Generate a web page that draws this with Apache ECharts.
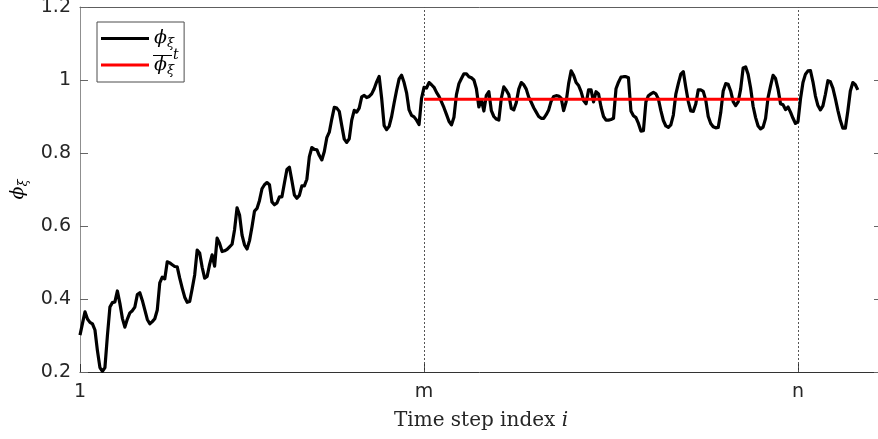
<!DOCTYPE html>
<html>
<head>
<meta charset="utf-8">
<script src="https://cdn.jsdelivr.net/npm/echarts@6/dist/echarts.min.js"></script>
<style>
  html, body { margin: 0; padding: 0; background: #fff; }
  #chart { width: 878px; height: 439px; }
</style>
</head>
<body>
<div id="chart"></div>
<script>
// phi_xi per time step (step index = position + 1)
const phiXi = [
  0.301,0.333,0.365,0.345,0.336,0.332,0.315,0.258,0.212,0.202,
  0.212,0.300,0.378,0.390,0.392,0.422,0.388,0.347,0.323,0.345,
  0.362,0.368,0.378,0.412,0.417,0.396,0.370,0.344,0.332,0.338,
  0.346,0.370,0.444,0.460,0.455,0.502,0.499,0.494,0.489,0.488,
  0.457,0.430,0.405,0.391,0.393,0.428,0.466,0.534,0.526,0.487,
  0.457,0.462,0.495,0.521,0.490,0.567,0.552,0.530,0.532,0.536,
  0.543,0.550,0.590,0.650,0.630,0.575,0.548,0.537,0.560,0.598,
  0.641,0.648,0.670,0.702,0.713,0.719,0.713,0.666,0.658,0.663,
  0.680,0.680,0.718,0.755,0.761,0.724,0.685,0.676,0.684,0.710,
  0.710,0.728,0.790,0.815,0.810,0.809,0.793,0.781,0.804,0.842,
  0.857,0.893,0.925,0.923,0.914,0.875,0.838,0.829,0.839,0.890,
  0.917,0.912,0.923,0.954,0.958,0.952,0.955,0.962,0.976,0.995,
  1.010,0.950,0.875,0.864,0.873,0.900,0.937,0.972,1.003,1.013,
  0.993,0.965,0.918,0.903,0.899,0.890,0.878,0.950,0.980,0.978,
  0.993,0.987,0.980,0.966,0.955,0.940,0.924,0.906,0.887,0.877,
  0.898,0.960,0.990,1.004,1.017,1.017,1.009,1.006,1.000,0.976,
  0.926,0.946,0.915,0.958,0.968,0.916,0.900,0.893,0.890,0.950,
  0.981,0.972,0.960,0.922,0.918,0.938,0.975,0.993,0.987,0.975,
  0.953,0.939,0.924,0.912,0.900,0.895,0.895,0.905,0.918,0.942,
  0.955,0.957,0.956,0.950,0.916,0.940,0.990,1.025,1.013,0.993,
  0.985,0.968,0.944,0.935,0.973,0.973,0.940,0.968,0.962,0.926,
  0.900,0.890,0.890,0.892,0.895,0.976,0.994,1.008,1.009,1.009,
  1.006,0.915,0.902,0.897,0.881,0.860,0.861,0.940,0.957,0.962,
  0.966,0.962,0.948,0.916,0.889,0.874,0.870,0.877,0.904,0.961,
  0.990,1.016,1.023,0.980,0.941,0.915,0.914,0.934,0.973,0.973,
  0.969,0.945,0.900,0.881,0.872,0.869,0.870,0.910,0.970,0.990,
  0.988,0.970,0.941,0.930,0.940,0.975,1.033,1.036,1.016,0.978,
  0.928,0.897,0.874,0.866,0.871,0.895,0.952,0.984,1.013,1.004,
  0.975,0.935,0.932,0.919,0.926,0.912,0.895,0.881,0.886,0.948,
  0.993,1.016,1.025,1.026,0.995,0.956,0.930,0.918,0.929,0.961,
  0.998,0.995,0.978,0.949,0.917,0.889,0.868,0.868,0.915,0.970,
  0.993,0.987,0.973
];

// averaging window [m, n] and the time-averaged value over it
const stepM = 139;
const stepN = 289;
const phiXiMeanT = [0.947, 0.947];

// axis ticks
const xTickValues = [1, stepM, stepN];
const xTickLabels = ['1', 'm', 'n'];
const yMin = 0.2, yMax = 1.2, yStep = 0.2;
const xMin = 1, xMax = 322.7;

const lineData = phiXi.map((v, k) => [k + 1, v]);
const meanData = [[stepM, phiXiMeanT[0]], [stepN, phiXiMeanT[1]]];

const chart = echarts.init(document.getElementById('chart'), null, { renderer: 'canvas' });

const tickFont = { fontFamily: 'DejaVu Sans', fontSize: 19, color: '#262626' };
const mathRich = {
  v: { fontFamily: 'DejaVu Serif', fontStyle: 'italic', fontSize: 19, lineHeight: 24, color: '#000' },
  s: { fontFamily: 'DejaVu Serif', fontStyle: 'italic', fontSize: 13, lineHeight: 13, verticalAlign: 'bottom', color: '#000' }
};

chart.setOption({
  animation: false,
  backgroundColor: '#fff',
  grid: { left: 80, top: 7, width: 802, height: 365, containLabel: false, outerBoundsMode: 'none' },
  legend: {
    orient: 'vertical',
    left: 97,
    top: 22,
    padding: [7, 10, 5, 4],
    itemGap: 5,
    icon: 'rect',
    itemWidth: 48,
    itemHeight: 3,
    borderColor: '#4d4d4d',
    borderWidth: 1,
    backgroundColor: '#fff',
    data: [{ name: 'phi' }, { name: 'phiMean' }],
    formatter: function () {
      return '{v|ϕ}{s|ξ}';
    },
    textStyle: { rich: mathRich, padding: [0, 0, 0, 0] }
  },
  xAxis: [{
    type: 'value',
    min: xMin,
    max: xMax,
    position: 'bottom',
    name: '{r|Time step index }{i|i}',
    nameLocation: 'middle',
    nameGap: 39,
    nameTextStyle: {
      rich: {
        r: { fontFamily: 'DejaVu Serif', fontSize: 20, color: '#262626' },
        i: { fontFamily: 'DejaVu Serif', fontStyle: 'italic', fontSize: 20, color: '#262626' }
      }
    },
    splitLine: { show: false },
    axisLine: { show: true, lineStyle: { color: '#333', width: 1 } },
    axisTick: { show: true, inside: true, length: 8, customValues: xTickValues, lineStyle: { color: '#333' } },
    axisLabel: {
      show: true,
      margin: 11,
      customValues: xTickValues,
      formatter: function (v) {
        const k = xTickValues.indexOf(Math.round(v));
        return k >= 0 ? xTickLabels[k] : '';
      },
      ...tickFont
    }
  }, {
    type: 'value',
    min: xMin,
    max: xMax,
    position: 'top',
    splitLine: { show: false },
    axisLine: { show: true, lineStyle: { color: '#5e5e5e', width: 1 } },
    axisTick: { show: false },
    axisLabel: { show: false }
  }],
  yAxis: [{
    type: 'value',
    min: yMin,
    max: yMax,
    interval: yStep,
    position: 'left',
    name: '{v|ϕ}{s|ξ}',
    nameLocation: 'middle',
    nameRotate: 90,
    nameGap: 43,
    nameTextStyle: { rich: mathRich },
    splitLine: { show: false },
    axisLine: { show: true, lineStyle: { color: '#8f8f8f', width: 1 } },
    axisTick: { show: true, inside: true, length: 8, lineStyle: { color: '#666' } },
    axisLabel: { margin: 9, ...tickFont }
  }, {
    type: 'value',
    min: yMin,
    max: yMax,
    interval: yStep,
    position: 'right',
    splitLine: { show: false },
    axisLine: { show: true, lineStyle: { color: '#5e5e5e', width: 1 } },
    axisTick: { show: true, inside: true, length: 8, lineStyle: { color: '#666' } },
    axisLabel: { show: false }
  }],
  series: [
    {
      name: 'phi',
      type: 'line',
      data: lineData,
      symbol: 'none',
      z: 3,
      lineStyle: { color: '#000', width: 3.2, join: 'round' },
      itemStyle: { color: '#000' },
      markLine: {
        silent: true,
        symbol: 'none',
        label: { show: false },
        lineStyle: { color: '#555', width: 1, type: [2, 2] },
        z: 1,
        data: [{ xAxis: stepM }, { xAxis: stepN }]
      }
    },
    {
      name: 'phiMean',
      type: 'line',
      data: meanData,
      symbol: 'none',
      z: 4,
      lineStyle: { color: '#ff0000', width: 3 },
      itemStyle: { color: '#ff0000' }
    }
  ],
  // time-average bar and superscript t on the second legend entry
  graphic: [{
    type: 'line',
    z: 100,
    shape: { x1: 153, y1: 55.5, x2: 172, y2: 55.5 },
    style: { stroke: '#000', lineWidth: 1 }
  }, {
    type: 'text',
    z: 100,
    x: 173,
    y: 48,
    style: { text: 't', fontFamily: 'DejaVu Serif', fontStyle: 'italic', fontSize: 14, fill: '#000' }
  }]
});
</script>
</body>
</html>
